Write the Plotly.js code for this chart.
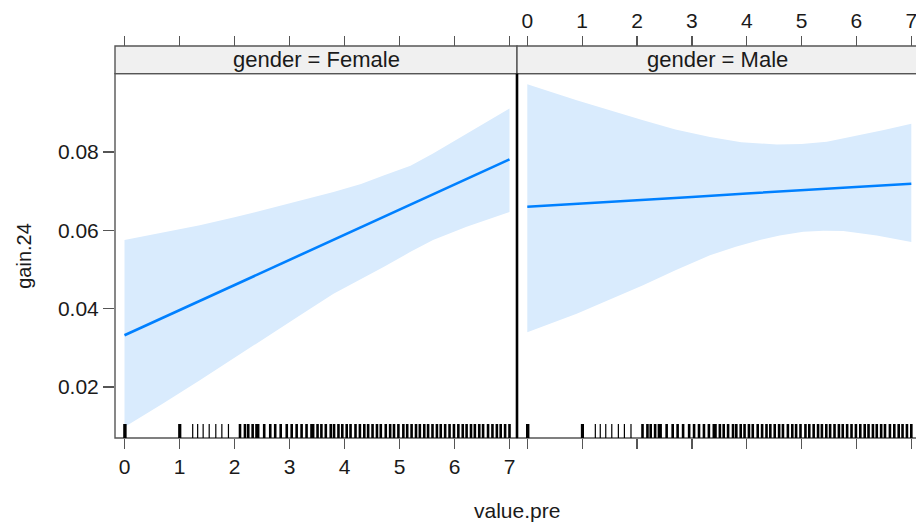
<!DOCTYPE html>
<html>
<head>
<meta charset="utf-8">
<script src="https://cdn.plot.ly/plotly-3.0.1.min.js"></script>
<style>
  html, body { margin: 0; padding: 0; background: #ffffff; }
  #chart { width: 916px; height: 524px; }
</style>
</head>
<body>
<div id="chart"></div>
<script>
// ---- data ----
const panels = ["gender = Female", "gender = Male"];
const xTicks = [0, 1, 2, 3, 4, 5, 6, 7];
const yTicks = [0.02, 0.04, 0.06, 0.08];
const yTickLabels = ["0.02", "0.04", "0.06", "0.08"];

const fitX = [0, 1, 2, 3, 4, 5, 6, 7];
const femaleFit = [0.0332, 0.0396, 0.0460, 0.0524, 0.0589, 0.0653, 0.0717, 0.0781];
const maleFit   = [0.0660, 0.0668, 0.0677, 0.0685, 0.0694, 0.0702, 0.0711, 0.0719];

const femaleUpperX = [0, 0.7, 1.37, 2.0, 2.59, 3.2, 3.80, 4.3, 4.71, 5.2, 5.61, 6.22, 6.6, 7];
const femaleUpper  = [0.0575, 0.0594, 0.0613, 0.0633, 0.0655, 0.0676, 0.0698, 0.0718, 0.0740, 0.0765, 0.0796, 0.0847, 0.0877, 0.0911];
const femaleLowerX = [0, 0.7, 1.37, 2.0, 2.59, 3.2, 3.80, 4.3, 4.71, 5.2, 5.61, 6.22, 6.6, 7];
const femaleLower  = [0.0098, 0.0158, 0.0217, 0.0275, 0.0328, 0.0384, 0.0438, 0.0476, 0.0506, 0.0545, 0.0575, 0.0609, 0.0627, 0.0647];

const maleUpperX = [0, 0.90, 2.11, 2.7, 3.33, 3.9, 4.55, 5.0, 5.46, 6.06, 6.5, 7];
const maleUpper  = [0.0973, 0.0932, 0.0881, 0.0857, 0.0838, 0.0825, 0.0819, 0.0820, 0.0826, 0.0843, 0.0856, 0.0872];
const maleLowerX = [0, 0.90, 2.11, 2.7, 3.33, 3.8, 4.24, 4.6, 5.03, 5.4, 5.76, 6.37, 7];
const maleLower  = [0.0340, 0.0387, 0.0460, 0.0498, 0.0536, 0.0558, 0.0575, 0.0587, 0.0596, 0.0599, 0.0598, 0.0587, 0.0570];

// observed value.pre (rug)
const rugX = [0, 0.015, 1, 1.01, 1.24, 1.33, 1.43, 1.54, 1.66, 1.77, 1.89,
  2.10, 2.19, 2.25, 2.33, 2.40, 2.43, 2.54, 2.65, 2.74, 2.84, 2.95, 3.04, 3.13,
  3.22, 3.31, 3.40, 3.43, 3.51, 3.58, 3.66, 3.75, 3.81, 3.89, 3.96, 4.04, 4.11,
  4.20, 4.28, 4.36, 4.43, 4.51, 4.59, 4.66, 4.75, 4.83, 4.90, 4.98, 5.07, 5.14,
  5.22, 5.30, 5.37, 5.45, 5.52, 5.60, 5.68, 5.75, 5.83, 5.91, 5.99, 6.07, 6.15,
  6.22, 6.30, 6.37, 6.45, 6.52, 6.61, 6.69, 6.77, 6.84, 6.92, 7.00];

// ---- geometry ----
const W = 916, H = 524;
const mL = 115, mR = 0, mT = 45.7, mB = 86.3;
const plotW = W - mL - mR, plotH = H - mT - mB;
const split = (517 - mL) / plotW;         // panel boundary
const panelTop = (437.7 - 73.3) / plotH;  // top of panels in paper units
const rugH = 14 / (437.7 - 73.3);

const lineColor = "#0080ff";
const bandColor = "#d9ebfd";
const frameColor = "#555555";
const textColor = "#1a1a1a";
const fontFam = "Liberation Sans, Arial, sans-serif";

function band(xu, yu, xl, yl, xa, ya) {
  return {
    x: xu.concat(xl.slice().reverse()),
    y: yu.concat(yl.slice().reverse()),
    xaxis: xa, yaxis: ya,
    type: "scatter", mode: "lines", fill: "toself",
    fillcolor: bandColor, line: { width: 0, color: bandColor },
    hoverinfo: "skip", showlegend: false
  };
}
function fit(xs, ys, xa, ya) {
  return { x: xs, y: ys, xaxis: xa, yaxis: ya, type: "scatter", mode: "lines",
    line: { color: lineColor, width: 2.6 }, showlegend: false };
}
// invisible anchors for the top axes
function ghost(xa) {
  return { x: [xTicks[0], xTicks[xTicks.length - 1]], y: [yTicks[0], yTicks[0]],
    xaxis: xa, yaxis: "y", type: "scatter", mode: "markers",
    marker: { opacity: 0, size: 1 }, hoverinfo: "skip", showlegend: false };
}

const traces = [
  band(femaleUpperX, femaleUpper, femaleLowerX, femaleLower, "x", "y"),
  fit(fitX, femaleFit, "x", "y"),
  band(maleUpperX, maleUpper, maleLowerX, maleLower, "x2", "y2"),
  fit(fitX, maleFit, "x2", "y2"),
  ghost("x3"), ghost("x4")
];

const xRangeL = [(mL - 124.5) / 55, (517 - 124.5) / 55];
const xRangeR = [(517 - 527.3) / 54.86, (916 - 527.3) / 54.86];
const yRange = [0.00698, 0.1000];

const tickFont = { family: fontFam, size: 21, color: textColor };
const baseX = {
  tickmode: "array", tickvals: xTicks, ticktext: xTicks.map(String),
  ticks: "outside", ticklen: 10, tickwidth: 1.3, tickcolor: frameColor,
  showgrid: false, zeroline: false, showline: false, tickfont: tickFont,
  ticklabeloverflow: "allow"
};

const shapes = [];
// strips
shapes.push({ type: "rect", xref: "paper", yref: "paper", x0: 0, x1: split, y0: panelTop, y1: 1,
  fillcolor: "#f0f0f0", line: { color: frameColor, width: 1.4 }, layer: "below" });
shapes.push({ type: "rect", xref: "paper", yref: "paper", x0: split, x1: 1.01, y0: panelTop, y1: 1,
  fillcolor: "#f0f0f0", line: { color: frameColor, width: 1.4 }, layer: "below" });
// panel frames
shapes.push({ type: "rect", xref: "paper", yref: "paper", x0: 0, x1: split, y0: 0, y1: panelTop,
  line: { color: frameColor, width: 1.4 }, layer: "above" });
shapes.push({ type: "rect", xref: "paper", yref: "paper", x0: split, x1: 1.01, y0: 0, y1: panelTop,
  line: { color: frameColor, width: 1.4 }, layer: "above" });
// dark divider
shapes.push({ type: "line", xref: "paper", yref: "paper", x0: split, x1: split, y0: 0, y1: panelTop,
  line: { color: "#000000", width: 2.6 } });
// rugs (bold where observations pile up)
[["x", "y domain"], ["x2", "y2 domain"]].forEach(([xr, yr]) => {
  rugX.forEach(v => {
    const sparse = v > 1.1 && v < 2.05;
    shapes.push({ type: "line", xref: xr, yref: yr, x0: v, x1: v, y0: 0, y1: rugH,
      line: { color: "#000000", width: sparse ? 1.2 : 2.6 } });
  });
});

const annotations = [
  { text: panels[0], xref: "paper", yref: "paper", x: split / 2, y: (panelTop + 1) / 2,
    xanchor: "center", yanchor: "middle", showarrow: false, font: { family: fontFam, size: 22, color: textColor } },
  { text: panels[1], xref: "paper", yref: "paper", x: (split + 1.0) / 2 + 0.001, y: (panelTop + 1) / 2,
    xanchor: "center", yanchor: "middle", showarrow: false, font: { family: fontFam, size: 22, color: textColor } },
  { text: "gain.24", xref: "paper", yref: "paper", x: (24 - mL) / plotW, y: panelTop / 2,
    xanchor: "center", yanchor: "middle", textangle: -90, showarrow: false,
    font: { family: fontFam, size: 20, color: textColor } },
  { text: "value.pre", xref: "paper", yref: "paper", x: split, y: -(510 - 437.7) / plotH,
    xanchor: "center", yanchor: "middle", showarrow: false,
    font: { family: fontFam, size: 21, color: textColor } }
];

const layout = {
  width: W, height: H,
  margin: { l: mL, r: mR, t: mT, b: mB, pad: 0 },
  paper_bgcolor: "#ffffff", plot_bgcolor: "rgba(0,0,0,0)",
  showlegend: false,
  xaxis: Object.assign({}, baseX, { domain: [0, split], range: xRangeL, anchor: "y", showticklabels: true }),
  xaxis2: Object.assign({}, baseX, { domain: [split, 1], range: xRangeR, anchor: "y2", showticklabels: false }),
  xaxis3: Object.assign({}, baseX, { overlaying: "x", side: "top", anchor: "free", position: 1,
    range: xRangeL, showticklabels: false }),
  xaxis4: Object.assign({}, baseX, { overlaying: "x2", side: "top", anchor: "free", position: 1,
    range: xRangeR, showticklabels: true }),
  yaxis: { domain: [0, panelTop], range: yRange, anchor: "x",
    tickmode: "array", tickvals: yTicks, ticktext: yTickLabels,
    ticks: "outside", ticklen: 11, tickwidth: 1.3, tickcolor: frameColor,
    ticklabelstandoff: 0,
    showgrid: false, zeroline: false, showline: false, tickfont: tickFont },
  yaxis2: { domain: [0, panelTop], range: yRange, anchor: "x2", matches: "y",
    showticklabels: false, ticks: "", showgrid: false, zeroline: false, showline: false },
  shapes: shapes,
  annotations: annotations
};

Plotly.newPlot("chart", traces, layout, { displayModeBar: false, staticPlot: true });
</script>
</body>
</html>
